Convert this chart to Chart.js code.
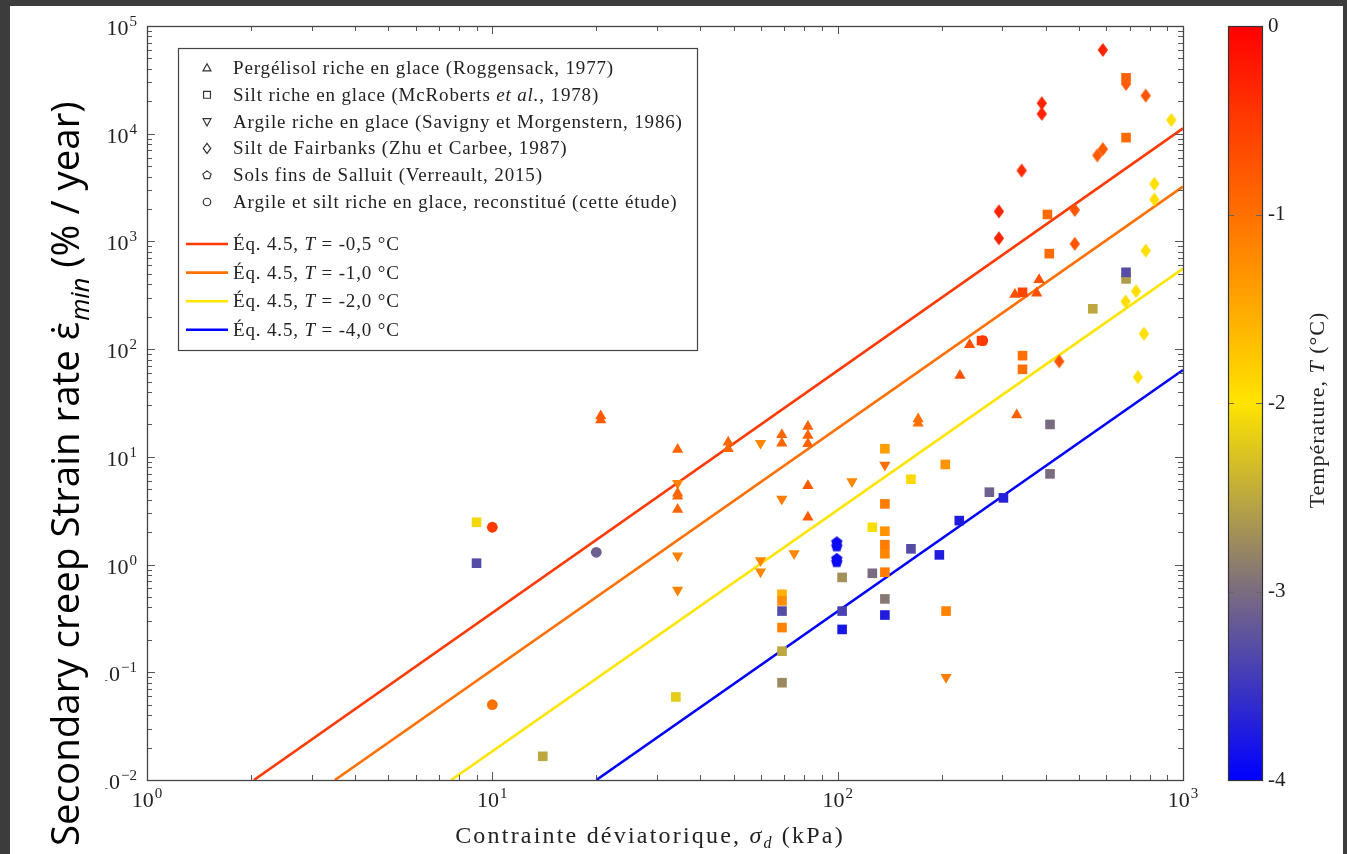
<!DOCTYPE html>
<html>
<head>
<meta charset="utf-8">
<script src="https://cdn.jsdelivr.net/npm/chart.js@4.4.1/dist/chart.umd.min.js"></script>
<style>
  html, body { margin: 0; padding: 0; background: #3c3c3c; overflow: hidden; }
  #creepChart { position: absolute; left: 0; top: 0; }
</style>
</head>
<body>
<canvas id="creepChart" width="1347" height="854"></canvas>
<script>

// ---- data (x = kPa, y = %/year, T = °C) ----

// Pergélisol riche en glace (Roggensack, 1977)
const roggX = [20.6, 20.6, 34.4, 34.4, 34.4, 34.4, 48.2, 48.2, 68.9, 68.9, 82, 82, 82, 82, 82, 171, 171, 330, 383, 326, 377, 241, 226];
const roggY = [24, 22, 11.7, 4.6, 4.3, 3.24, 13.7, 11.9, 16.0, 13.4, 19.1, 15.8, 13.2, 5.4, 2.75, 22.5, 20.5, 24.5, 440, 321, 331, 110, 57];
const roggT = [-0.8, -0.8, -0.9, -0.9, -0.9, -0.9, -0.9, -0.9, -0.9, -0.9, -0.85, -0.85, -0.85, -0.8, -0.8, -1.0, -1.0, -0.85, -0.7, -0.7, -0.7, -0.7, -0.7];

// Silt riche en glace (McRoberts et al., 1978)
const mcrX = [684, 684, 405, 410, 684, 684, 548, 343, 261, 343, 343, 412, 412, 205, 163, 275, 302, 225, 163, 197, 206, 137, 137, 137, 137, 137, 137, 137, 137, 126, 126, 103, 103, 103, 69, 69, 69, 69, 69, 69, 34, 14, 9.0, 9.0];
const mcrY = [33000, 9200, 1780, 770, 449, 517, 237, 337, 120, 87, 65, 20, 6.95, 8.5, 6.2, 4.7, 4.16, 2.56, 1.40, 1.23, 0.37, 11.9, 3.66, 2.04, 1.53, 1.26, 0.85, 0.48, 0.34, 2.22, 0.83, 0.76, 0.37, 0.25, 0.53, 0.46, 0.37, 0.26, 0.157, 0.080, 0.059, 0.0166, 2.47, 1.03];
const mcrT = [-0.85, -0.95, -0.95, -0.95, -2.6, -3.3, -2.5, -0.6, -0.5, -1.0, -1.0, -3.0, -3.0, -1.3, -1.9, -3.1, -3.7, -3.75, -3.3, -3.75, -1.15, -1.4, -1.1, -1.3, -1.1, -1.2, -1.1, -2.9, -3.75, -2.05, -3.0, -2.7, -3.4, -3.8, -1.55, -1.25, -3.3, -1.15, -2.5, -2.75, -2.2, -2.5, -2.1, -3.3];

// Argile riche en glace (Savigny et Morgenstern, 1986)
const savX = [34.4, 34.4, 34.4, 59.8, 59.8, 59.8, 68.9, 74.8, 110, 137, 206];
const savY = [5.7, 1.21, 0.58, 13.4, 1.09, 0.86, 4.07, 1.27, 5.9, 8.4, 0.09];
const savT = [-1.15, -1.15, -1.15, -1.2, -1.2, -1.2, -1.1, -1.2, -1.2, -1.0, -1.1];

// Silt de Fairbanks (Zhu et Carbee, 1987)
const zhuX = [586, 390, 390, 341, 293, 293, 684, 780, 565, 586, 486, 486, 438, 925, 826, 826, 780, 731, 682, 771, 740];
const zhuY = [60000, 19200, 15300, 4550, 1900, 1070, 29000, 22600, 6300, 7200, 1960, 950, 77, 13400, 3430, 2450, 820, 345, 277, 139, 55];
const zhuT = [-0.3, -0.3, -0.3, -0.35, -0.3, -0.3, -0.8, -0.75, -0.8, -0.8, -0.75, -0.75, -0.75, -1.95, -1.95, -1.95, -1.95, -1.95, -1.95, -1.95, -1.95];

// Sols fins de Salluit (Verreault, 2015)
const sallX = [99.4, 99.4, 99.4, 99.4];
const sallY = [1.61, 1.47, 1.13, 1.05];
const sallT = [-3.9, -3.9, -3.9, -3.9];

// Argile et silt riche en glace, reconstitué (cette étude)
const etudeX = [10.0, 10.0, 20.0, 263];
const etudeY = [2.22, 0.050, 1.30, 120];
const etudeT = [-0.5, -1.0, -3.1, -0.45];

// Éq. 4.5 lines : start at (eqXStart, eqY0), end at (eqX1, eqYEnd)
const eqT = [-0.5, -1.0, -2.0, -4.0];
const eqXStart = [2.04, 3.5, 7.6, 20];
const eqY0 = 0.01;
const eqX1 = 1000;
const eqYEnd = [11200, 3230, 560, 64];

// axis ticks
const xDecades = [1, 10, 100, 1000];
const yDecades = [0.01, 0.1, 1, 10, 100, 1000, 10000, 100000];
const tempTicks = [-4, -3, -2, -1, 0];

// ---- colour map (Température) ----
const cmapStops = [
    [-4, [0, 0, 255]],
    [-3, [122, 108, 128]],
    [-2.5, [188, 168, 62]],
    [-2, [255, 228, 0]],
    [-1.5, [255, 170, 0]],
    [-1, [255, 112, 0]],
    [-0.5, [255, 58, 0]],
    [0, [255, 0, 0]]
];

function tColor(t) {
    for (let i = 1; i < cmapStops.length; i++) {
        const [t0, c0] = cmapStops[i - 1];
        const [t1, c1] = cmapStops[i];
        if (t <= t1) {
            const f = Math.max(0, (t - t0) / (t1 - t0));
            const c = c0.map((v, j) => Math.round(v + f * (c1[j] - v)));
            return 'rgb(' + c.join(',') + ')';
        }
    }
    return 'rgb(255,0,0)';
}

// ---- marker shapes ----
function shapePath(g, shape, x, y, k) {
    g.beginPath();
    if (shape === 'diamond') {
        g.moveTo(x, y - 7 * k); g.lineTo(x + 5.2 * k, y); g.lineTo(x, y + 7 * k); g.lineTo(x - 5.2 * k, y);
    } else if (shape === 'pentagon') {
        for (let i = 0; i < 5; i++) {
            const a = -Math.PI / 2 + i * 2 * Math.PI / 5;
            const px = x + 6 * k * Math.cos(a), py = y + 6 * k * Math.sin(a);
            if (i) g.lineTo(px, py); else g.moveTo(px, py);
        }
    } else if (shape === 'triangle') {
        g.moveTo(x, y - 6 * k); g.lineTo(x + 5.5 * k, y + 4 * k); g.lineTo(x - 5.5 * k, y + 4 * k);
    } else if (shape === 'tridown') {
        g.moveTo(x, y + 6 * k); g.lineTo(x + 5.5 * k, y - 4 * k); g.lineTo(x - 5.5 * k, y - 4 * k);
    } else if (shape === 'square') {
        g.rect(x - 4.8 * k, y - 4.8 * k, 9.6 * k, 9.6 * k);
    } else {
        g.arc(x, y, 5.2 * k, 0, Math.PI * 2);
    }
    g.closePath();
}

const markerCache = {};
function markerImage(shape, color) {
    const key = shape + color;
    if (!markerCache[key]) {
        const c = document.createElement('canvas');
        c.width = 16; c.height = 16;
        const g = c.getContext('2d');
        g.fillStyle = color;
        shapePath(g, shape, 8, 8, 1);
        g.fill();
        markerCache[key] = c;
    }
    return markerCache[key];
}

function pts(xs, ys) {
    return xs.map((x, i) => ({ x: x, y: ys[i] }));
}

// ---- datasets ----
const scatterSets = [
    { label: 'Pergélisol riche en glace (Roggensack, 1977)', data: pts(roggX, roggY),
      backgroundColor: roggT.map(tColor), pointStyle: 'triangle', pointRadius: 6.5, legendShape: 'triangle' },
    { label: 'Silt riche en glace (McRoberts et al., 1978)', data: pts(mcrX, mcrY),
      backgroundColor: mcrT.map(tColor), pointStyle: 'rect', pointRadius: 6.8, legendShape: 'square' },
    { label: 'Argile riche en glace (Savigny et Morgenstern, 1986)', data: pts(savX, savY),
      backgroundColor: savT.map(tColor), pointStyle: 'triangle', rotation: 180, pointRadius: 6.5, legendShape: 'tridown' },
    { label: 'Silt de Fairbanks (Zhu et Carbee, 1987)', data: pts(zhuX, zhuY),
      backgroundColor: zhuT.map(tColor), pointStyle: zhuT.map(t => markerImage('diamond', tColor(t))), legendShape: 'diamond' },
    { label: 'Sols fins de Salluit (Verreault, 2015)', data: pts(sallX, sallY),
      backgroundColor: sallT.map(tColor), pointStyle: sallT.map(t => markerImage('pentagon', tColor(t))), legendShape: 'pentagon' },
    { label: 'Argile et silt riche en glace, reconstitué (cette étude)', data: pts(etudeX, etudeY),
      backgroundColor: etudeT.map(tColor), pointStyle: 'circle', pointRadius: 5.4, legendShape: 'circle' }
];
scatterSets.forEach(d => { d.borderWidth = 0; d.pointBorderWidth = 0; });

const lineSets = eqT.map((t, i) => ({
    label: 'Éq. 4.5, T = ' + t.toFixed(1).replace('.', ',') + ' °C',
    data: [{ x: eqXStart[i], y: eqY0 }, { x: eqX1, y: eqYEnd[i] }],
    showLine: true,
    borderColor: tColor(t),
    backgroundColor: tColor(t),
    borderWidth: 2.6,
    pointRadius: 0,
    legendShape: 'line'
}));

// ---- drawing helpers ----
const serif = '"Liberation Serif", "DejaVu Serif", serif';
const supMap = { '-': '\u2212' };

function powerParts(v) {
    const e = Math.round(Math.log10(v));
    return { base: '10', exp: String(e).split('').map(c => supMap[c] || c).join('') };
}
function powerWidth(ctx, p) {
    ctx.font = '22px ' + serif;
    const w = ctx.measureText(p.base).width;
    ctx.font = '15px ' + serif;
    return w + 1 + ctx.measureText(p.exp).width;
}
function drawPower(ctx, p, x, y) {
    ctx.font = '22px ' + serif;
    ctx.fillText(p.base, x, y);
    const w = ctx.measureText(p.base).width;
    ctx.font = '15px ' + serif;
    ctx.fillText(p.exp, x + w + 1, y - 9);
}

function richParts(text) {
    return text.split(/(et al\.|\bT\b|σ)/).filter(p => p);
}
function drawRich(ctx, text, x, y, size, family) {
    let cx = x;
    richParts(text).forEach(p => {
        const it = p === 'et al.' || p === 'T' || p === 'σ';
        ctx.font = (it ? 'italic ' : '') + size + 'px ' + family;
        ctx.fillText(p, cx, y);
        cx += ctx.measureText(p).width;
    });
    return cx - x;
}
function richWidth(ctx, text, size, family) {
    let w = 0;
    richParts(text).forEach(p => {
        const it = p === 'et al.' || p === 'T' || p === 'σ';
        ctx.font = (it ? 'italic ' : '') + size + 'px ' + family;
        w += ctx.measureText(p).width;
    });
    return w;
}

// ---- plugins ----
const pageBackground = {
    id: 'pageBackground',
    beforeDraw(chart) {
        const ctx = chart.ctx;
        ctx.save();
        ctx.fillStyle = '#3c3c3c';
        ctx.fillRect(0, 0, chart.width, chart.height);
        ctx.fillStyle = '#ffffff';
        ctx.fillRect(10, 6, 1333, 848);
        ctx.restore();
    }
};

const frameTicks = {
    id: 'frameTicks',
    afterDatasetsDraw(chart) {
        const { ctx, chartArea: a, scales: { x, y } } = chart;
        ctx.save();
        ctx.strokeStyle = '#555';
        ctx.lineWidth = 1;
        const seg = (x1, y1, x2, y2) => { ctx.beginPath(); ctx.moveTo(x1, y1); ctx.lineTo(x2, y2); ctx.stroke(); };
        xDecades.forEach((d, i) => {
            for (let k = 1; k < 10; k++) {
                if (i === xDecades.length - 1 && k > 1) break;
                const px = Math.round(x.getPixelForValue(k * d)) + 0.5;
                const len = k === 1 ? 8 : 5;
                seg(px, a.bottom, px, a.bottom - len);
                seg(px, a.top, px, a.top + len);
            }
        });
        yDecades.forEach((d, i) => {
            for (let k = 1; k < 10; k++) {
                if (i === yDecades.length - 1 && k > 1) break;
                const py = Math.round(y.getPixelForValue(k * d)) + 0.5;
                const len = k === 1 ? 8 : 5;
                seg(a.left, py, a.left + len, py);
                seg(a.right, py, a.right - len, py);
            }
        });
        ctx.strokeStyle = '#444';
        ctx.lineWidth = 1.3;
        ctx.strokeRect(Math.round(a.left) + 0.5, Math.round(a.top) + 0.5, Math.round(a.right - a.left), Math.round(a.bottom - a.top));
        ctx.restore();
    }
};

const decorations = {
    id: 'decorations',
    afterDraw(chart) {
        const { ctx, chartArea: a, scales: { x, y, temp } } = chart;
        ctx.save();

        // power-of-ten tick labels
        ctx.fillStyle = '#222';
        ctx.textAlign = 'left';
        ctx.textBaseline = 'alphabetic';
        x.ticks.forEach(t => {
            const p = powerParts(t.value);
            drawPower(ctx, p, x.getPixelForValue(t.value) - powerWidth(ctx, p) / 2, 807);
        });
        y.ticks.forEach(t => {
            const p = powerParts(t.value);
            drawPower(ctx, p, a.left - 10 - powerWidth(ctx, p), y.getPixelForValue(t.value) + 9);
        });

        // x axis title
        ctx.letterSpacing = '2.2px';
        const xt1 = 'Contrainte déviatorique, σ';
        const xt2 = ' (kPa)';
        const w1 = richWidth(ctx, xt1, 24, serif);
        ctx.font = 'italic 16px ' + serif;
        const wd = ctx.measureText('d').width;
        const w2 = richWidth(ctx, xt2, 24, serif);
        let cx = 650 - (w1 + wd + w2) / 2;
        drawRich(ctx, xt1, cx, 843, 24, serif); cx += w1;
        ctx.font = 'italic 16px ' + serif; ctx.fillText('d', cx, 848); cx += wd;
        drawRich(ctx, xt2, cx, 843, 24, serif);

        // legend
        const lx = 178.5, ly = 48.5, lw = 519, lh = 302;
        ctx.letterSpacing = '0px';
        ctx.fillStyle = '#ffffff';
        ctx.fillRect(lx, ly, lw, lh);
        ctx.strokeStyle = '#444';
        ctx.lineWidth = 1.2;
        ctx.strokeRect(lx, ly, lw, lh);
        ctx.textBaseline = 'middle';
        ctx.letterSpacing = '0.85px';
        const ds = chart.data.datasets;
        let row = 0;
        ds.filter(d => d.legendShape !== 'line').forEach(d => {
            const yy = 68 + row * 26.8;
            ctx.fillStyle = '#ffffff';
            ctx.strokeStyle = '#333';
            ctx.lineWidth = 1.2;
            shapePath(ctx, d.legendShape, 207, yy, 0.72);
            ctx.fill(); ctx.stroke();
            ctx.fillStyle = '#222';
            drawRich(ctx, d.label, 233, yy + 1, 19, serif);
            row++;
        });
        row = 0;
        ds.filter(d => d.legendShape === 'line').forEach(d => {
            const yy = 244 + row * 28.6;
            ctx.strokeStyle = d.borderColor;
            ctx.lineWidth = 2.6;
            ctx.beginPath(); ctx.moveTo(186, yy); ctx.lineTo(228, yy); ctx.stroke();
            ctx.fillStyle = '#222';
            drawRich(ctx, d.label, 233, yy + 1, 19, serif);
            row++;
        });

        // colour bar
        const top = temp.getPixelForValue(0), bot = temp.getPixelForValue(-4);
        const cbL = 1228, cbW = 34;
        const g = ctx.createLinearGradient(0, bot, 0, top);
        cmapStops.forEach(([t, c]) => g.addColorStop((t + 4) / 4, 'rgb(' + c.join(',') + ')'));
        ctx.fillStyle = g;
        ctx.fillRect(cbL, top, cbW, bot - top);
        ctx.strokeStyle = '#666';
        ctx.lineWidth = 1;
        tempTicks.forEach(t => {
            const py = Math.round(temp.getPixelForValue(t)) + 0.5;
            ctx.beginPath(); ctx.moveTo(cbL, py); ctx.lineTo(cbL + 6, py); ctx.stroke();
            ctx.beginPath(); ctx.moveTo(cbL + cbW, py); ctx.lineTo(cbL + cbW - 6, py); ctx.stroke();
        });
        ctx.strokeStyle = '#333';
        ctx.lineWidth = 1.2;
        ctx.strokeRect(cbL + 0.5, Math.round(top) + 0.5, cbW, Math.round(bot - top));

        // colour bar title
        ctx.save();
        ctx.translate(1318, 410);
        ctx.rotate(-Math.PI / 2);
        ctx.fillStyle = '#222';
        ctx.letterSpacing = '1px';
        const ctitle = 'Température, T (°C)';
        drawRich(ctx, ctitle, -richWidth(ctx, ctitle, 22, serif) / 2, 0, 22, serif);
        ctx.restore();

        // y axis title in its white text box
        ctx.letterSpacing = '0px';
        ctx.fillStyle = '#ffffff';
        ctx.fillRect(10, 88, 95, 766);
        ctx.save();
        ctx.translate(79, 846);
        ctx.rotate(-Math.PI / 2);
        ctx.fillStyle = '#000';
        ctx.textBaseline = 'alphabetic';
        const sans = '"Open Sans", "Noto Sans", sans-serif';
        const yt1 = 'Secondary creep Strain rate \u03b5\u0307';
        const yt3 = ' (% / year)';
        // fit the title to the span it has in the figure
        ctx.font = '32px ' + sans;
        let full = ctx.measureText(yt1 + yt3).width;
        ctx.font = 'italic 21px ' + sans;
        full += ctx.measureText('min').width + 1;
        const fs = 32 * 745 / full;
        ctx.font = fs + 'px ' + sans;
        ctx.fillText(yt1, 0, 0);
        let tx = ctx.measureText(yt1).width;
        ctx.font = 'italic ' + (fs * 0.66) + 'px ' + sans;
        ctx.fillText('min', tx + 1, fs * 0.25);
        tx += ctx.measureText('min').width + 1;
        ctx.font = fs + 'px ' + sans;
        ctx.fillText(yt3, tx, 0);
        ctx.restore();

        ctx.restore();
    }
};

// ---- chart ----
var ctx = document.getElementById('creepChart').getContext('2d');

const noPad = s => { s.paddingTop = 0; s.paddingBottom = 0; s.paddingLeft = 0; s.paddingRight = 0; };

const creepChart = new Chart(ctx, {
    type: 'scatter',
    data: {
        datasets: scatterSets.concat(lineSets)
    },
    options: {
        responsive: false,
        animation: false,
        layout: {
            padding: { top: 26, left: 0, right: 0, bottom: 0 }
        },
        scales: {
            x: {
                type: 'logarithmic',
                position: 'bottom',
                min: 1,
                max: 1000,
                grid: { display: false, drawTicks: false },
                border: { display: false },
                ticks: { display: false },
                afterBuildTicks: s => { s.ticks = xDecades.map(v => ({ value: v, major: true })); },
                afterFit: s => { s.height = 74; noPad(s); }
            },
            y: {
                type: 'logarithmic',
                position: 'left',
                min: 0.01,
                max: 100000,
                grid: { display: false, drawTicks: false },
                border: { display: false },
                ticks: { display: false },
                afterBuildTicks: s => { s.ticks = yDecades.map(v => ({ value: v, major: true })); },
                afterFit: s => { s.width = 147; noPad(s); }
            },
            temp: {
                type: 'linear',
                position: 'right',
                min: -4,
                max: 0,
                grid: { display: false, drawTicks: false },
                border: { display: false },
                ticks: {
                    stepSize: 1,
                    padding: 85,
                    color: '#222',
                    font: { family: 'Liberation Serif', size: 21 }
                },
                afterFit: s => { s.width = 164; noPad(s); }
            }
        },
        plugins: {
            legend: { display: false },
            tooltip: { enabled: false }
        }
    },
    plugins: [pageBackground, frameTicks, decorations]
})
</script>
</body>
</html>
